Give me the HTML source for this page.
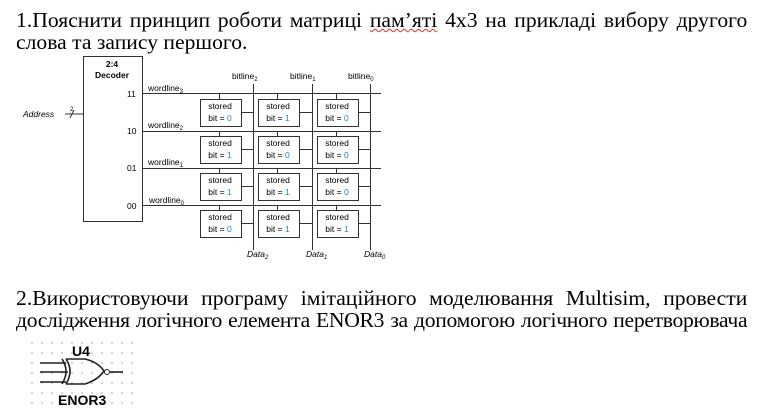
<!DOCTYPE html>
<html><head><meta charset="utf-8"><style>
html,body{margin:0;padding:0;background:#fff;width:764px;height:420px;overflow:hidden;position:relative}
.t{position:absolute;left:16px;width:710px;transform:scaleX(1.03);transform-origin:0 0;font-family:"Liberation Serif",serif;font-size:21px;line-height:21px;white-space:nowrap;color:#000}
.j{text-align:justify;text-align-last:justify;white-space:normal}
svg{position:absolute;left:0;top:0}
</style></head><body>
<div class="t j" style="top:10px">1.Пояснити принцип роботи матриці <span style="text-decoration:underline wavy #d33;text-decoration-thickness:1px">пам’яті</span> 4x3 на прикладі вибору другого</div>
<div class="t" style="top:32px">слова та запису першого.</div>
<div class="t j" style="top:288px">2.Використовуючи програму імітаційного моделювання Multisim, провести</div>
<div class="t j" style="top:310px;letter-spacing:-0.3px;word-spacing:-3px">дослідження логічного елемента ENOR3 за допомогою логічного перетворювача</div>
<svg width="764" height="420" font-family="Liberation Sans, sans-serif" font-size="8.5">
<g stroke="#333" fill="none" stroke-width="1">
<rect x="83.5" y="56.5" width="59" height="165"/>
<line x1="65" y1="114" x2="83" y2="114"/>
<line x1="70" y1="118" x2="74" y2="110"/>
<line x1="142" y1="93.5" x2="381" y2="93.5"/>
<line x1="142" y1="131.5" x2="381" y2="131.5"/>
<line x1="142" y1="168.5" x2="381" y2="168.5"/>
<line x1="142" y1="205.5" x2="381" y2="205.5"/>
<line x1="253.5" y1="84" x2="253.5" y2="250"/>
<line x1="312.5" y1="84" x2="312.5" y2="250"/>
<line x1="370.5" y1="84" x2="370.5" y2="250"/>
</g>
<g fill="#000">
<text x="112" y="67" text-anchor="middle" font-weight="bold">2:4</text>
<text x="112" y="78" text-anchor="middle" font-weight="bold">Decoder</text>
<text x="127" y="97">11</text><text x="127" y="134">10</text><text x="127" y="171">01</text><text x="127" y="209">00</text>
<text x="23" y="117" font-style="italic">Address</text>
<text x="70" y="111" font-size="6">2</text>
<text x="148" y="91">wordline<tspan font-size="6" dy="2">3</tspan></text>
<text x="148" y="128">wordline<tspan font-size="6" dy="2">2</tspan></text>
<text x="148" y="165">wordline<tspan font-size="6" dy="2">1</tspan></text>
<text x="149" y="203">wordline<tspan font-size="6" dy="2">0</tspan></text>
<text x="232" y="79">bitline<tspan font-size="6" dy="2">2</tspan></text>
<text x="290" y="79">bitline<tspan font-size="6" dy="2">1</tspan></text>
<text x="348" y="79">bitline<tspan font-size="6" dy="2">0</tspan></text>
<text x="247" y="257" font-style="italic">Data<tspan font-size="6" dy="2">2</tspan></text>
<text x="306" y="257" font-style="italic">Data<tspan font-size="6" dy="2">1</tspan></text>
<text x="364" y="257" font-style="italic">Data<tspan font-size="6" dy="2">0</tspan></text>
</g>
<g id="cells"></g>
<g stroke="#222" stroke-width="1.6" fill="none">
<line x1="40" y1="363" x2="66" y2="363"/><line x1="40" y1="372" x2="68" y2="372"/><line x1="40" y1="382" x2="66" y2="382"/>
<path d="M62 359 Q70 371 62 384"/>
<path d="M66 359 Q74 371 66 384"/>
<path d="M66 359 L85 359 Q98 362 104 371 Q98 380 85 384 L66 384"/>
<circle cx="107" cy="372" r="2.5" stroke-width="1"/>
<line x1="110" y1="372" x2="123" y2="372"/>
</g>
<g fill="#000" font-weight="bold" font-size="14"><text x="72" y="356">U4</text><text x="58" y="405">ENOR3</text></g>
</svg>
<script>
var g=document.getElementById('cells'),s='';
var vals=[[0,1,0],[1,0,0],[1,1,0],[0,1,1]],ys=[99,136,173,210],wl=[93.5,131.5,168.5,205.5],xs=[200,258,317],bl=[253.5,312.5,370.5];
for(var r=0;r<4;r++)for(var c=0;c<3;c++){var x=xs[c],y=ys[r];
s+='<line x1="'+(x+19.5)+'" y1="'+wl[r]+'" x2="'+(x+19.5)+'" y2="'+y+'" stroke="#333"/>';
s+='<line x1="'+(x+41)+'" y1="'+(y+13.5)+'" x2="'+bl[c]+'" y2="'+(y+13.5)+'" stroke="#333"/>';
s+='<rect x="'+(x+.5)+'" y="'+(y+.5)+'" width="41" height="27" fill="#fff" stroke="#333"/>';
s+='<text x="'+(x+20)+'" y="'+(y+10)+'" text-anchor="middle">stored</text>';
s+='<text x="'+(x+20)+'" y="'+(y+22)+'" text-anchor="middle">bit = <tspan fill="#1a86d0">'+vals[r][c]+'</tspan></text>';}
var d='';for(var i=0;i<11;i++)for(var j=0;j<7;j++)d+='<circle cx="'+(32+i*10)+'" cy="'+(343+j*10)+'" r="0.6" fill="#666"/>';
g.innerHTML=s+d;
</script>
</body></html>
